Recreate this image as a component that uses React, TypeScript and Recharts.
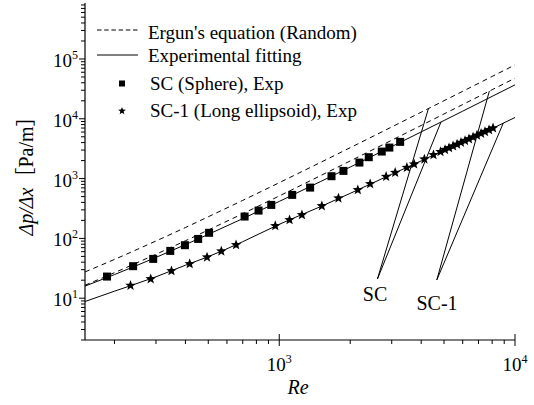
import React from 'react';
import { ComposedChart, Line, Scatter, XAxis, YAxis, ReferenceLine } from 'recharts';

// Re values used to trace the four curves
const lineRe = [150, 200, 300, 400, 500, 700, 1000, 1500, 2000, 3000, 4000, 5000, 6000, 8000, 10000];
const ergunSC = [27.5, 44.5, 90.5, 152, 230, 432, 854, 1873, 3288, 7300, 12890, 20060, 28810, 51050, 79600];
const ergunSC1 = [16.5, 26.7, 54.3, 91.3, 138, 259, 512, 1124, 1973, 4380, 7735, 12040, 17290, 30630, 47760];
const fitSC = [15.9, 24.8, 48.1, 78.7, 116.6, 214, 415, 896, 1558, 3429, 6028, 9354, 13410, 23700, 36900];
const fitSC1 = [8.8, 13.1, 22.8, 35.6, 49.5, 88, 172, 341, 566, 1183, 1975, 3010, 4135, 6870, 10500];

// SC (sphere) experiment
const reSC = [186, 240, 292, 345, 398, 453, 504, 713, 817, 925, 1135, 1352, 1666, 1872, 2188, 2397, 2722, 2931, 3257];
const dpSC = [23, 34.3, 45.4, 61.8, 77, 98, 124, 232, 292, 363, 534, 707, 1096, 1345, 1852, 2280, 2830, 3300, 4110];

// SC-1 (long ellipsoid) experiment
const reSC1 = [234, 285, 349, 417, 494, 568, 656, 962, 1106, 1248, 1516, 1783, 2154, 2430, 2840, 3103, 3478, 3735, 4127, 4510,
  4830, 5050, 5250, 5460, 5680, 5900, 6140, 6380, 6640, 6900, 7180, 7460, 7760, 8070];
const dpSC1 = [16.3, 21, 28.6, 37.5, 48.5, 61, 77.9, 162, 204, 247, 349, 470, 647, 815, 1080, 1259, 1527, 1742, 2110, 2490,
  2810, 3040, 3260, 3490, 3740, 4010, 4300, 4600, 4930, 5280, 5680, 6080, 6520, 6980];

// callout leader lines: [label point, end on first curve, end on second curve]
const scCallout = [[2610, 21], [4295, 14850], [4853, 8820]];
const sc1Callout = [[4659, 20.2], [7785, 29050], [8921, 8500]];

const xTicks = [200, 300, 400, 500, 600, 700, 800, 900, 1000, 2000, 3000, 4000, 5000, 6000, 7000, 8000, 9000, 10000];
const yTicks = [
  2, 3, 4, 5, 6, 7, 8, 9,
  10, 20, 30, 40, 50, 60, 70, 80, 90,
  100, 200, 300, 400, 500, 600, 700, 800, 900,
  1000, 2000, 3000, 4000, 5000, 6000, 7000, 8000, 9000,
  10000, 20000, 30000, 40000, 50000, 60000, 70000, 80000, 90000,
  100000, 200000, 300000, 400000, 500000, 600000, 700000, 800000,
];

const toXY = (xs: number[], ys: number[]) => xs.map((x, i) => ({ x, y: ys[i] }));

const isMajor = (v: number) => Math.abs(Math.log10(v) - Math.round(Math.log10(v))) < 1e-9;
const expOf = (v: number) => Math.round(Math.log10(v));

const BottomTick = (props: any) => {
  const { x, y, payload } = props;
  const major = isMajor(payload.value);
  return (
    <g>
      <line x1={x} x2={x} y1={major ? y - 6 : y} y2={y + (major ? 6 : 4)} stroke="#000" />
      {major && (
        <text x={x} y={y + 31} textAnchor="middle" fontSize={19} fill="#000">
          10<tspan dy={-8} fontSize={12}>{expOf(payload.value)}</tspan>
        </text>
      )}
    </g>
  );
};

const TopTick = (props: any) => {
  const { x, y, payload } = props;
  const major = isMajor(payload.value);
  return <line x1={x} x2={x} y1={y} y2={y + (major ? 6 : 4)} stroke="#000" />;
};

const LeftTick = (props: any) => {
  const { x, y, payload } = props;
  const major = isMajor(payload.value);
  return (
    <g>
      <line x1={x - (major ? 6 : 4)} x2={x} y1={y} y2={y} stroke="#000" />
      {major && (
        <text x={x - 7} y={y + 8} textAnchor="end" fontSize={19} fill="#000">
          10<tspan dy={-8} fontSize={12}>{expOf(payload.value)}</tspan>
        </text>
      )}
    </g>
  );
};

const RightTick = (props: any) => {
  const { x, y, payload } = props;
  const major = isMajor(payload.value);
  return <line x1={x - (major ? 6 : 4)} x2={x} y1={y} y2={y} stroke="#000" />;
};

const SquareShape = (props: any) => {
  const { cx, cy } = props;
  return <rect x={cx - 4} y={cy - 4} width={8} height={8} fill="#000" />;
};

const starPath = (cx: number, cy: number, ro: number, ri: number) => {
  let d = '';
  for (let i = 0; i < 10; i++) {
    const r = i % 2 === 0 ? ro : ri;
    const a = -Math.PI / 2 + (i * Math.PI) / 5;
    d += (i === 0 ? 'M' : 'L') + (cx + r * Math.cos(a)).toFixed(2) + ',' + (cy + r * Math.sin(a)).toFixed(2);
  }
  return d + 'Z';
};

const StarShape = (props: any) => {
  const { cx, cy } = props;
  return <path d={starPath(cx, cy, 5.5, 2.3)} fill="#000" />;
};

export default function App() {
  const font = '"Liberation Serif", "Times New Roman", serif';
  const curves = [
    { data: toXY(lineRe, ergunSC), dash: '5 4' },
    { data: toXY(lineRe, ergunSC1), dash: '5 4' },
    { data: toXY(lineRe, fitSC), dash: undefined },
    { data: toXY(lineRe, fitSC1), dash: undefined },
  ];
  const callouts = [scCallout, sc1Callout];

  return (
    <div style={{ position: 'absolute', left: 0, top: 0, width: 534, height: 405, fontFamily: font, background: '#fff' }}>
      <ComposedChart width={534} height={405} margin={{ top: 3, right: 19, bottom: 0, left: 0 }}>
        <XAxis
          dataKey="x"
          type="number"
          scale="log"
          domain={[150, 10000]}
          allowDataOverflow
          ticks={xTicks}
          interval={0}
          height={65}
          tickSize={0}
          tickMargin={0}
          tickLine={false}
          axisLine={{ stroke: '#000', strokeWidth: 1.2 }}
          tick={<BottomTick />}
        />
        <XAxis
          xAxisId="top"
          orientation="top"
          dataKey="x"
          type="number"
          scale="log"
          domain={[150, 10000]}
          allowDataOverflow
          ticks={xTicks}
          interval={0}
          height={0}
          tickSize={0}
          tickMargin={0}
          tickLine={false}
          axisLine={{ stroke: '#000', strokeWidth: 1.2 }}
          tick={<TopTick />}
        />
        <YAxis
          dataKey="y"
          type="number"
          scale="log"
          domain={[2, 863000]}
          allowDataOverflow
          ticks={yTicks}
          interval={0}
          width={85}
          tickSize={0}
          tickMargin={0}
          tickLine={false}
          axisLine={{ stroke: '#000', strokeWidth: 1.2 }}
          tick={<LeftTick />}
        />
        <YAxis
          yAxisId="right"
          orientation="right"
          dataKey="y"
          type="number"
          scale="log"
          domain={[2, 863000]}
          allowDataOverflow
          ticks={yTicks}
          interval={0}
          width={0}
          tickSize={0}
          tickMargin={0}
          tickLine={false}
          axisLine={{ stroke: '#000', strokeWidth: 1.2 }}
          tick={<RightTick />}
        />
        {curves.map((c, i) => (
          <Line
            key={i}
            data={c.data}
            dataKey="y"
            type="monotone"
            stroke="#000"
            strokeWidth={1}
            strokeDasharray={c.dash}
            dot={false}
            activeDot={false}
            isAnimationActive={false}
          />
        ))}
        {callouts.map((c, i) =>
          [1, 2].map((j) => (
            <ReferenceLine
              key={`${i}-${j}`}
              segment={[{ x: c[0][0], y: c[0][1] }, { x: c[j][0], y: c[j][1] }]}
              stroke="#000"
              strokeWidth={1}
              ifOverflow="visible"
            />
          ))
        )}
        <Scatter data={toXY(reSC, dpSC)} dataKey="y" shape={<SquareShape />} isAnimationActive={false} />
        <Scatter data={toXY(reSC1, dpSC1)} dataKey="y" shape={<StarShape />} isAnimationActive={false} />
      </ComposedChart>
      <svg width={534} height={405} style={{ position: 'absolute', left: 0, top: 0, pointerEvents: 'none' }}>
        <g fontSize={19} fill="#000">
          <line x1={97} x2={138} y1={30} y2={30} stroke="#000" strokeDasharray="4.5 2.7" />
          <text x={148} y={38.5}>Ergun's equation (Random)</text>
          <line x1={97} x2={138} y1={55} y2={55} stroke="#000" />
          <text x={148} y={61.5}>Experimental fitting</text>
          <rect x={119} y={80.5} width={6} height={6} fill="#000" />
          <text x={150} y={90}>SC (Sphere), Exp</text>
          <path d={starPath(122, 111, 4, 1.7)} fill="#000" />
          <text x={150} y={117}>SC-1 (Long ellipsoid), Exp</text>
        </g>
        <text x={375} y={301} fontSize={20} textAnchor="middle">SC</text>
        <text x={437} y={310} fontSize={20} textAnchor="middle">SC-1</text>
        <text x={298} y={394} fontSize={20} textAnchor="middle" fontStyle="italic">Re</text>
        <text
          transform="translate(33,171) rotate(-90)"
          fontSize={20}
          textAnchor="middle"
          fontFamily={'"Liberation Serif", "Noto Sans CJK SC", serif'}
        >
          <tspan fontStyle="italic">Δp/Δx</tspan>
          <tspan>［Pa/m］</tspan>
        </text>
      </svg>
    </div>
  );
}
